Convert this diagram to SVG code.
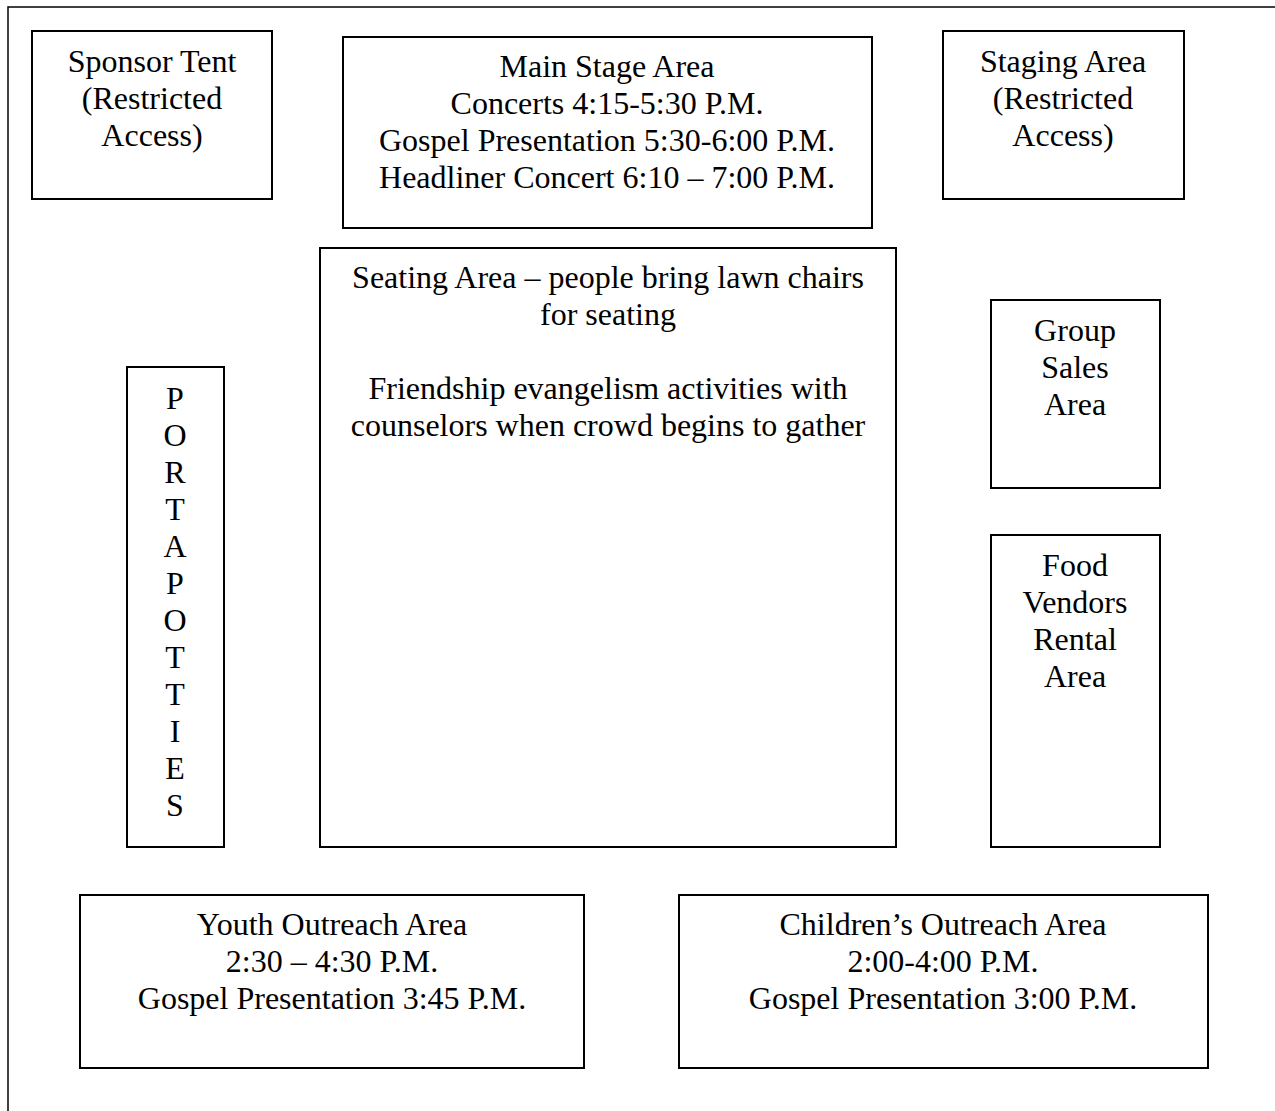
<svg xmlns="http://www.w3.org/2000/svg" width="1275" height="1111" viewBox="0 0 1275 1111">
<style>
.box{fill:#fff;stroke:#000;stroke-width:2}
.frame{fill:none;stroke:#000;stroke-width:1.5}
text{font-family:"Liberation Serif","Times New Roman",serif;font-size:32px;fill:#000;text-anchor:middle}
</style>
<rect width="1275" height="1111" fill="#fff"/>
<path class="frame" d="M8,1111 V7 H1275"/>
<g id="sponsor-tent">
<rect class="box" x="32" y="31" width="240" height="168"/>
<text x="152" y="72">Sponsor Tent</text>
<text x="152" y="109">(Restricted</text>
<text x="152" y="146">Access)</text>
</g>
<g id="main-stage">
<rect class="box" x="343" y="37" width="529" height="191"/>
<text x="607" y="77">Main Stage Area</text>
<text x="607" y="114">Concerts 4:15-5:30 P.M.</text>
<text x="607" y="151">Gospel Presentation 5:30-6:00 P.M.</text>
<text x="607" y="188">Headliner Concert 6:10 – 7:00 P.M.</text>
</g>
<g id="staging-area">
<rect class="box" x="943" y="31" width="241" height="168"/>
<text x="1063" y="72">Staging Area</text>
<text x="1063" y="109">(Restricted</text>
<text x="1063" y="146">Access)</text>
</g>
<g id="seating-area">
<rect class="box" x="320" y="248" width="576" height="599"/>
<text x="608" y="288">Seating Area – people bring lawn chairs</text>
<text x="608" y="325">for seating</text>
<text x="608" y="399">Friendship evangelism activities with</text>
<text x="608" y="436">counselors when crowd begins to gather</text>
</g>
<g id="portapotties">
<rect class="box" x="127" y="367" width="97" height="480"/>
<text x="175" y="409">P</text>
<text x="175" y="446">O</text>
<text x="175" y="483">R</text>
<text x="175" y="520">T</text>
<text x="175" y="557">A</text>
<text x="175" y="594">P</text>
<text x="175" y="631">O</text>
<text x="175" y="668">T</text>
<text x="175" y="705">T</text>
<text x="175" y="742">I</text>
<text x="175" y="779">E</text>
<text x="175" y="816">S</text>
</g>
<g id="group-sales">
<rect class="box" x="991" y="300" width="169" height="188"/>
<text x="1075" y="341">Group</text>
<text x="1075" y="378">Sales</text>
<text x="1075" y="415">Area</text>
</g>
<g id="food-vendors">
<rect class="box" x="991" y="535" width="169" height="312"/>
<text x="1075" y="576">Food</text>
<text x="1075" y="613">Vendors</text>
<text x="1075" y="650">Rental</text>
<text x="1075" y="687">Area</text>
</g>
<g id="youth-outreach">
<rect class="box" x="80" y="895" width="504" height="173"/>
<text x="332" y="935">Youth Outreach Area</text>
<text x="332" y="972">2:30 – 4:30 P.M.</text>
<text x="332" y="1009">Gospel Presentation 3:45 P.M.</text>
</g>
<g id="childrens-outreach">
<rect class="box" x="679" y="895" width="529" height="173"/>
<text x="943" y="935">Children’s Outreach Area</text>
<text x="943" y="972">2:00-4:00 P.M.</text>
<text x="943" y="1009">Gospel Presentation 3:00 P.M.</text>
</g>
<g id="connectors"></g>
</svg>
